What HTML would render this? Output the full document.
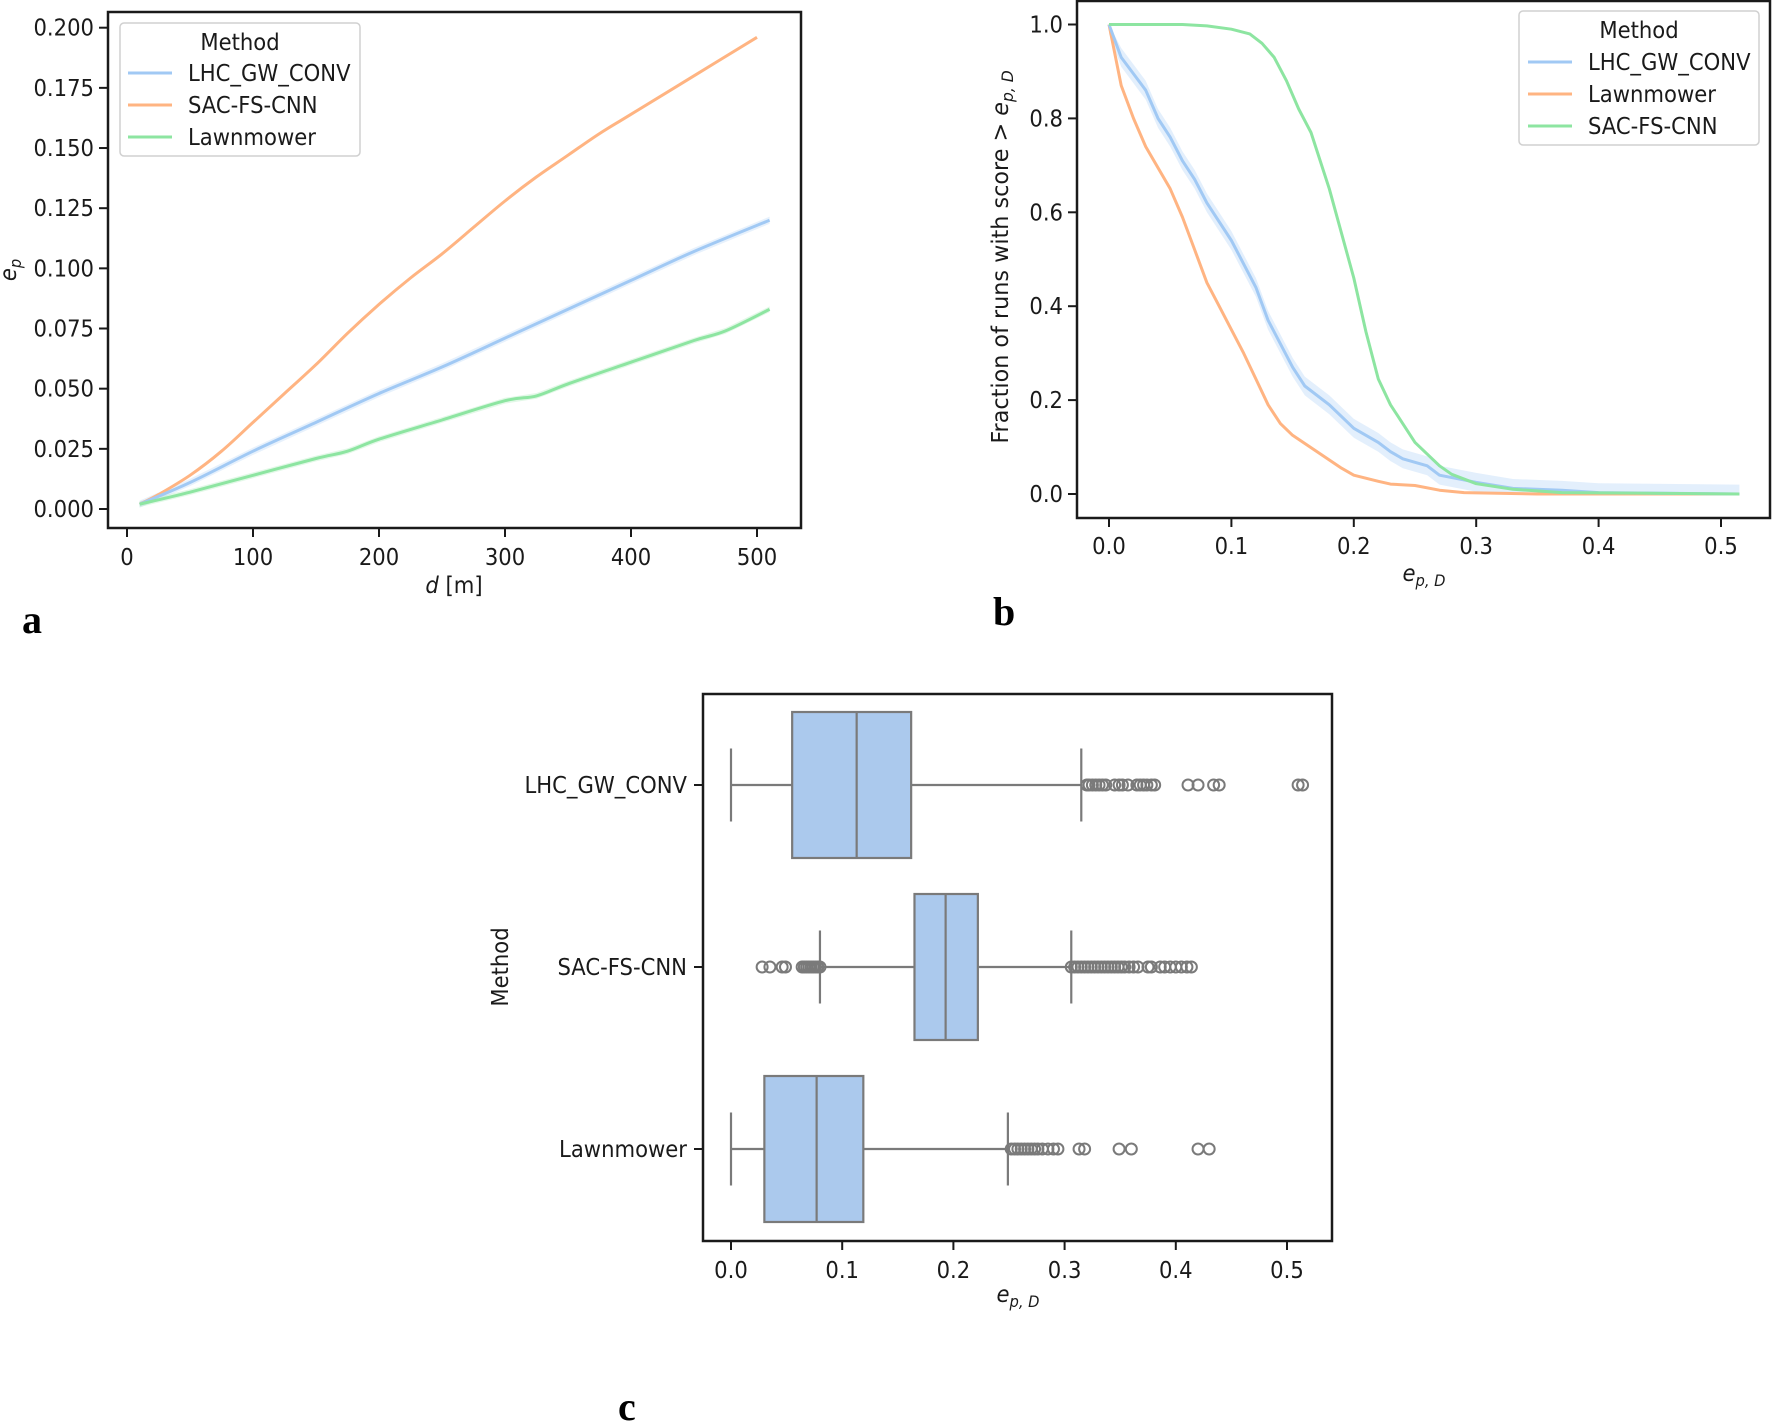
<!DOCTYPE html>
<html><head><meta charset="utf-8"><style>
html,body{margin:0;padding:0;background:#fff;}
svg{display:block;font-family:"DejaVu Sans","Liberation Sans",sans-serif;}
</style></head><body>
<svg id="fig" width="1772" height="1423" viewBox="0 0 1772 1423" xmlns="http://www.w3.org/2000/svg"></svg>
<script>
// ---------- Panel a data ----------
const aSacD = [10,25,50,75,100,125,150,175,200,225,250,275,300,325,350,375,400,450,500];
const aSacV = [0.002,0.006,0.014,0.024,0.036,0.048,0.060,0.073,0.085,0.096,0.106,0.117,0.128,0.138,0.147,0.156,0.164,0.180,0.196];
const aLhcD = [10,50,100,150,200,250,300,350,400,450,510];
const aLhcV = [0.002,0.011,0.024,0.036,0.048,0.059,0.071,0.083,0.095,0.107,0.120];
const aLawD = [10,50,100,150,175,200,250,300,325,350,400,450,475,510];
const aLawV = [0.002,0.007,0.014,0.021,0.024,0.029,0.037,0.045,0.047,0.052,0.061,0.070,0.074,0.083];
const aXTicks = [0,100,200,300,400,500];
const aYTicks = [0,0.025,0.05,0.075,0.1,0.125,0.15,0.175,0.2];
const aYLabels = ["0.000","0.025","0.050","0.075","0.100","0.125","0.150","0.175","0.200"];
// ---------- Panel b data ----------
const bLhcX = [0,0.01,0.03,0.04,0.05,0.06,0.07,0.08,0.1,0.12,0.13,0.15,0.16,0.18,0.2,0.22,0.23,0.24,0.26,0.27,0.3,0.33,0.37,0.4,0.515];
const bLhcY = [1,0.93,0.86,0.80,0.76,0.71,0.67,0.62,0.54,0.44,0.37,0.27,0.23,0.19,0.14,0.11,0.09,0.075,0.06,0.04,0.025,0.012,0.008,0.003,0];
const bLawX = [0,0.01,0.02,0.03,0.05,0.06,0.07,0.08,0.09,0.1,0.11,0.12,0.13,0.14,0.15,0.17,0.19,0.2,0.22,0.23,0.25,0.27,0.29,0.35,0.515];
const bLawY = [1,0.87,0.80,0.74,0.65,0.59,0.52,0.45,0.40,0.35,0.30,0.245,0.19,0.15,0.125,0.09,0.055,0.04,0.027,0.021,0.018,0.008,0.003,0,0];
const bSacX = [0,0.06,0.08,0.1,0.115,0.125,0.135,0.145,0.155,0.165,0.18,0.2,0.21,0.22,0.23,0.25,0.27,0.28,0.3,0.33,0.37,0.515];
const bSacY = [1,1,0.997,0.99,0.98,0.96,0.93,0.88,0.82,0.77,0.65,0.46,0.345,0.245,0.19,0.11,0.06,0.042,0.022,0.01,0.003,0];
const bXTicks = [0,0.1,0.2,0.3,0.4,0.5];
const bYTicks = [0,0.2,0.4,0.6,0.8,1.0];
// ---------- Panel c data ----------
const cCats = ["LHC_GW_CONV","SAC-FS-CNN","Lawnmower"];
const cQ1 = [0.055,0.165,0.030];
const cMed = [0.113,0.193,0.077];
const cQ3 = [0.162,0.222,0.119];
const cLo = [0.0,0.080,0.0];
const cHi = [0.315,0.306,0.249];
const cOut0 = [0.320,0.322,0.325,0.328,0.331,0.334,0.337,0.345,0.349,0.352,0.357,0.365,0.368,0.371,0.374,0.378,0.381,0.411,0.42,0.434,0.439,0.51,0.514];
const cOut1 = [0.028,0.035,0.046,0.049,0.064,0.066,0.068,0.070,0.072,0.074,0.076,0.078,0.080,0.306,0.309,0.312,0.315,0.318,0.321,0.324,0.327,0.33,0.333,0.336,0.339,0.342,0.345,0.348,0.351,0.354,0.358,0.362,0.366,0.375,0.378,0.386,0.39,0.395,0.40,0.405,0.41,0.414];
const cOut2 = [0.252,0.255,0.258,0.261,0.264,0.267,0.27,0.273,0.276,0.28,0.285,0.29,0.294,0.313,0.318,0.349,0.36,0.42,0.43];
const cOutliers = [cOut0,cOut1,cOut2];
const cXTicks = [0,0.1,0.2,0.3,0.4,0.5];

const NS="http://www.w3.org/2000/svg";
const svg=document.getElementById('fig');
const SX=0.92;
function el(tag,attrs,parent){const e=document.createElementNS(NS,tag);for(const k in attrs)e.setAttribute(k,attrs[k]);(parent||svg).appendChild(e);return e;}
function txt(s,x,y,size,anchor,parent,rot){
  const t=el('text',{x:0,y:0,'font-size':size,'text-anchor':anchor||'start',fill:'#1a1a1a',
    transform:'translate('+x+','+y+')'+(rot?' rotate('+rot+')':'')+' scale('+SX+',1)'},parent);
  t.textContent=s;return t;}
const BLUE='#a1c9f4',ORANGE='#ffb482',GREEN='#8de5a1';
function poly(xs,ys,fx,fy){return xs.map((v,i)=>fx(v).toFixed(1)+','+fy(ys[i]).toFixed(1)).join(' ');}
function smooth(xs,ys,fx,fy){
  const P=xs.map((v,i)=>[fx(v),fy(ys[i])]);
  let d='M'+P[0][0].toFixed(1)+','+P[0][1].toFixed(1);
  for(let i=0;i<P.length-1;i++){
    const p0=P[i-1]||P[i],p1=P[i],p2=P[i+1],p3=P[i+2]||P[i+1];
    const c1=[p1[0]+(p2[0]-p0[0])/6,p1[1]+(p2[1]-p0[1])/6];
    const c2=[p2[0]-(p3[0]-p1[0])/6,p2[1]-(p3[1]-p1[1])/6];
    d+=' C'+c1.map(v=>v.toFixed(1)).join(',')+' '+c2.map(v=>v.toFixed(1)).join(',')+' '+p2[0].toFixed(1)+','+p2[1].toFixed(1);
  }
  return d;
}

// ===== Panel a =====
(function(){
  const g=el('g',{});
  
  
  const L=108,R=801,T=12,B=528;
  const x=d=>127+d*1.26, y=v=>509-(v/0.2)*481.3;
  function band(xs,ys,w,color,name){
    const up=xs.map((v,i)=>x(v).toFixed(1)+','+y(ys[i]+w).toFixed(1));
    const dn=xs.map((v,i)=>x(v).toFixed(1)+','+y(ys[i]-w).toFixed(1)).reverse();
    const p=el('polygon',{points:up.concat(dn).join(' '),fill:color,opacity:0.25},g);
    
    
  }
  band(aLhcD,aLhcV,0.0015,BLUE,'lhc-confidence-band');
  band(aLawD,aLawV,0.0012,GREEN,'lawnmower-confidence-band');
  const s=[[aSacD,aSacV,ORANGE,'sac-line'],[aLhcD,aLhcV,BLUE,'lhc-line'],[aLawD,aLawV,GREEN,'lawnmower-line']];
  s.forEach(([xs,ys,c,n])=>{const p=el('path',{d:smooth(xs,ys,x,y),fill:'none',stroke:c,'stroke-width':3,'stroke-linejoin':'round'},g);
    
    });
  el('rect',{x:L,y:T,width:R-L,height:B-T,fill:'none',stroke:'#1a1a1a','stroke-width':2.5},g);
  aXTicks.forEach(t=>{el('line',{x1:x(t),x2:x(t),y1:B,y2:B+9,stroke:'#1a1a1a','stroke-width':2},g);
    const tt=txt(String(t),x(t),B+37,23,'middle',g);
    
    });
  aYTicks.forEach((t,i)=>{el('line',{x1:L-9,x2:L,y1:y(t),y2:y(t),stroke:'#1a1a1a','stroke-width':2},g);
    const tt=txt(aYLabels[i],L-14,y(t)+8,23,'end',g);
    
    });
  const xl=el('text',{x:0,y:0,'font-size':23,'text-anchor':'middle',fill:'#1a1a1a',transform:'translate(454,593) scale('+SX+',1)'},g);
  xl.innerHTML='<tspan font-style="italic">d</tspan> [m]';
  
  
  const yl=el('text',{x:0,y:0,'font-size':23,'text-anchor':'middle',fill:'#1a1a1a',transform:'translate(16,270) rotate(-90) scale('+SX+',1)'},g);
  yl.innerHTML='<tspan font-style="italic">e</tspan><tspan font-style="italic" font-size="16" dy="5">p</tspan>';
  
  
  const lg=el('g',{},g);
  
  
  el('rect',{x:120,y:23,width:240,height:133,rx:4,fill:'#fff',stroke:'#d0d0d0','stroke-width':1.5},lg);
  txt('Method',240,50,23,'middle',lg);
  [['LHC_GW_CONV',BLUE],['SAC-FS-CNN',ORANGE],['Lawnmower',GREEN]].forEach((e,i)=>{
    const yy=73+i*32;
    el('line',{x1:128,x2:172,y1:yy,y2:yy,stroke:e[1],'stroke-width':3},lg);
    const t=txt(e[0],188,yy+8,23,'start',lg);
    
    
  });
})();

// ===== Panel b =====
(function(){
  const g=el('g',{});
  
  
  const L=1077,R=1770,T=1,B=518;
  const x=v=>1109+v*1224, y=v=>494-v*469.5;
  const up=bLhcX.map((v,i)=>x(v).toFixed(1)+','+y(Math.min(1,bLhcY[i]+0.02)).toFixed(1));
  const dn=bLhcX.map((v,i)=>x(v).toFixed(1)+','+y(Math.max(0,bLhcY[i]-0.02)).toFixed(1)).reverse();
  const bd=el('polygon',{points:up.concat(dn).join(' '),fill:BLUE,opacity:0.3},g);
  
  
  [[bLawX,bLawY,ORANGE,'lawnmower-line'],[bLhcX,bLhcY,BLUE,'lhc-line'],[bSacX,bSacY,GREEN,'sac-line']].forEach(([xs,ys,c,n])=>{
    const p=el('polyline',{points:poly(xs,ys,x,y),fill:'none',stroke:c,'stroke-width':3,'stroke-linejoin':'round'},g);
    
    });
  el('rect',{x:L,y:T,width:R-L,height:B-T,fill:'none',stroke:'#1a1a1a','stroke-width':2.5},g);
  bXTicks.forEach(t=>{el('line',{x1:x(t),x2:x(t),y1:B,y2:B+9,stroke:'#1a1a1a','stroke-width':2},g);
    const tt=txt(t.toFixed(1),x(t),B+36,23,'middle',g);
    
    });
  bYTicks.forEach(t=>{el('line',{x1:L-9,x2:L,y1:y(t),y2:y(t),stroke:'#1a1a1a','stroke-width':2},g);
    const tt=txt(t.toFixed(1),L-14,y(t)+8,23,'end',g);
    
    });
  const xl=el('text',{x:0,y:0,'font-size':23,'text-anchor':'middle',fill:'#1a1a1a',transform:'translate(1424,581) scale('+SX+',1)'},g);
  xl.innerHTML='<tspan font-style="italic">e</tspan><tspan font-style="italic" font-size="16" dy="5">p, D</tspan>';
  
  
  const yl=el('text',{x:0,y:0,'font-size':23,'text-anchor':'middle',fill:'#1a1a1a',transform:'translate(1008,257) rotate(-90) scale(0.97,1)'},g);
  yl.innerHTML='Fraction of runs with score &gt; <tspan font-style="italic">e</tspan><tspan font-style="italic" font-size="16" dy="5">p, D</tspan>';
  
  
  const lg=el('g',{},g);
  
  
  el('rect',{x:1519,y:11,width:240,height:134,rx:4,fill:'#fff',stroke:'#d0d0d0','stroke-width':1.5},lg);
  txt('Method',1639,38,23,'middle',lg);
  [['LHC_GW_CONV',BLUE],['Lawnmower',ORANGE],['SAC-FS-CNN',GREEN]].forEach((e,i)=>{
    const yy=62+i*32;
    el('line',{x1:1528,x2:1572,y1:yy,y2:yy,stroke:e[1],'stroke-width':3},lg);
    const t=txt(e[0],1588,yy+8,23,'start',lg);
    
    
  });
})();

// ===== Panel c =====
(function(){
  const g=el('g',{});
  
  
  const L=703,R=1332,T=694,B=1241;
  const x=v=>731+v*1112;
  const catY=i=>785+i*182;
  const GRAY='#7a7a7a', H=146;
  cCats.forEach((c,i)=>{
    const cy=catY(i);
    const bg=el('g',{},g);
    
    
    el('line',{x1:x(cLo[i]),x2:x(cQ1[i]),y1:cy,y2:cy,stroke:GRAY,'stroke-width':2.2},bg);
    el('line',{x1:x(cQ3[i]),x2:x(cHi[i]),y1:cy,y2:cy,stroke:GRAY,'stroke-width':2.2},bg);
    el('line',{x1:x(cLo[i]),x2:x(cLo[i]),y1:cy-H/4,y2:cy+H/4,stroke:GRAY,'stroke-width':2.2},bg);
    el('line',{x1:x(cHi[i]),x2:x(cHi[i]),y1:cy-H/4,y2:cy+H/4,stroke:GRAY,'stroke-width':2.2},bg);
    el('rect',{x:x(cQ1[i]),y:cy-H/2,width:x(cQ3[i])-x(cQ1[i]),height:H,fill:'#abc9ed',stroke:GRAY,'stroke-width':2.2},bg);
    el('line',{x1:x(cMed[i]),x2:x(cMed[i]),y1:cy-H/2,y2:cy+H/2,stroke:GRAY,'stroke-width':2.2},bg);
    cOutliers[i].forEach(v=>{
      const o=el('circle',{cx:x(v),cy:cy,r:5.5,fill:'none',stroke:GRAY,'stroke-width':2},bg);
      
      
    });
    el('line',{x1:L-9,x2:L,y1:cy,y2:cy,stroke:'#1a1a1a','stroke-width':2},g);
    const t=txt(c,L-16,cy+8,23,'end',g);
    
    
  });
  el('rect',{x:L,y:T,width:R-L,height:B-T,fill:'none',stroke:'#1a1a1a','stroke-width':2.5},g);
  cXTicks.forEach(t=>{el('line',{x1:x(t),x2:x(t),y1:B,y2:B+9,stroke:'#1a1a1a','stroke-width':2},g);
    const tt=txt(t.toFixed(1),x(t),B+37,23,'middle',g);
    
    });
  const xl=el('text',{x:0,y:0,'font-size':23,'text-anchor':'middle',fill:'#1a1a1a',transform:'translate(1018,1302) scale('+SX+',1)'},g);
  xl.innerHTML='<tspan font-style="italic">e</tspan><tspan font-style="italic" font-size="16" dy="5">p, D</tspan>';
  
  
  const yl=txt('Method',508,967,23,'middle',g,-90);
  
  
})();

[['a',22,633],['b',993,625],['c',618,1420]].forEach(([s,xx,yy])=>{
  const t=el('text',{x:xx,y:yy,'font-size':40,'font-weight':'bold','font-family':'"Liberation Serif",serif',fill:'#000'});
  t.textContent=s;
  
  
});
</script>
</body></html>
